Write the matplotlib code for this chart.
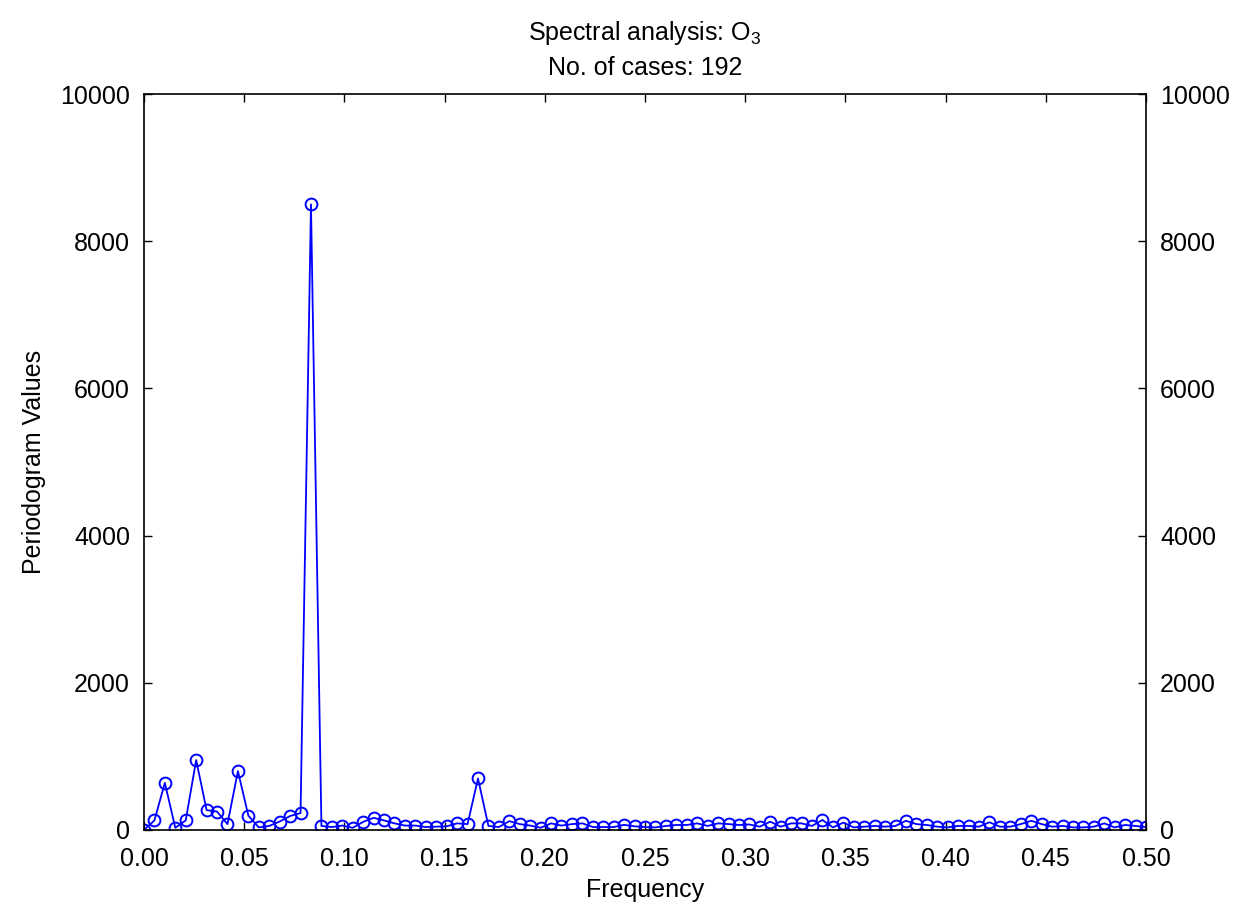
import matplotlib
matplotlib.use("Agg")
import matplotlib.pyplot as plt
import numpy as np

plt.rcParams['font.family'] = ['Liberation Sans', 'DejaVu Sans']
plt.rcParams['mathtext.fontset'] = 'custom'
plt.rcParams['mathtext.rm'] = 'Liberation Sans'

n_cases = 192

# periodogram values for k = 0..96 (frequency = k / 192)
periodogram = [
    0, 130, 640, 30, 130, 950, 270, 250, 80, 800,
    195, 35, 55, 115, 190, 230, 8500, 55, 40, 60,
    30, 110, 165, 130, 90, 60, 60, 40, 45, 50,
    90, 80, 700, 55, 40, 120, 80, 60, 30, 90,
    60, 80, 90, 40, 40, 40, 70, 50, 40, 35,
    55, 68, 68, 90, 55, 90, 80, 68, 75, 45,
    113, 45, 90, 90, 55, 136, 35, 100, 35, 45,
    55, 45, 55, 125, 80, 68, 45, 35, 55, 55,
    45, 105, 45, 45, 80, 125, 80, 45, 55, 35,
    35, 45, 90, 35, 68, 55, 40,
]
freq = np.arange(len(periodogram)) / n_cases

x_ticks = np.arange(0, 0.501, 0.05)
y_ticks = [0, 2000, 4000, 6000, 8000, 10000]

fig = plt.figure(figsize=(12.38, 9.22), dpi=100)
ax = fig.add_axes([0.1163, 0.0998, 0.8094, 0.7982])

ax.plot(freq, periodogram, color='#0000ff', lw=1.3, marker='o', ms=8.5,
        mfc='none', mec='#0000ff', mew=1.4)

ax.set_xlim(0, 0.5)
ax.set_ylim(0, 10000)
ax.set_xticks(x_ticks)
ax.set_xticklabels(['%.2f' % v for v in x_ticks])
ax.set_yticks(y_ticks)

ax.tick_params(direction='in', length=6, width=1, labelsize=18,
               top=True, right=True, labelright=True)
ax.tick_params(axis='x', pad=12)
ax.tick_params(axis='y', pad=10)
for s in ax.spines.values():
    s.set_linewidth(1.2)

ax.set_xlabel('Frequency', fontsize=18, labelpad=5)
ax.set_ylabel('Periodogram Values', fontsize=18, labelpad=10)
ax.set_title('Spectral analysis: O$_3$\nNo. of cases: %d' % n_cases,
             fontsize=18, linespacing=1.45, pad=14)

fig.savefig('out.png', dpi=100)
